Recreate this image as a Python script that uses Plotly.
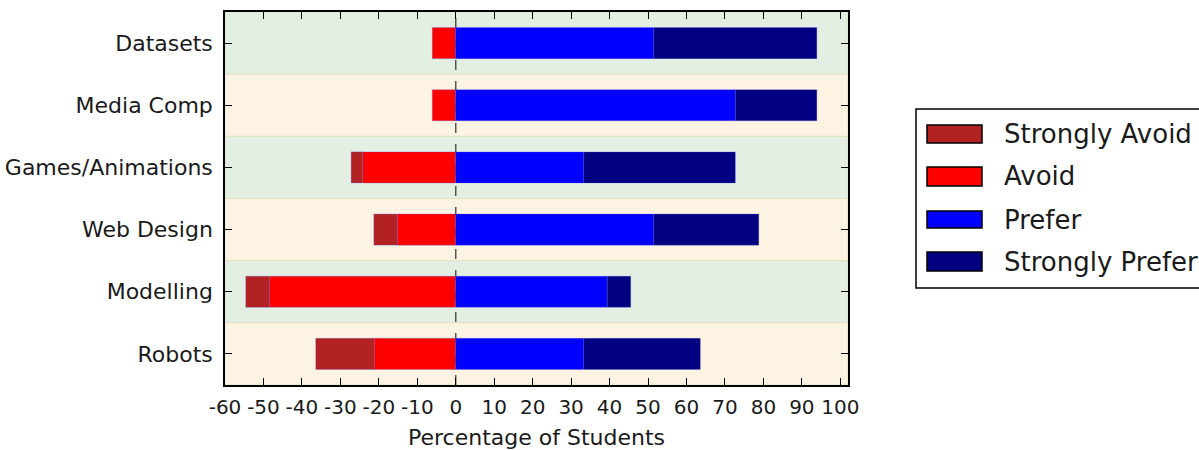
import plotly.graph_objects as go

# Survey topics, listed top to bottom
topics = ["Datasets", "Media Comp", "Games/Animations", "Web Design", "Modelling", "Robots"]

# Percentage of students per response (avoid responses plotted to the left of zero)
strongly_avoid = [0.0, 0.0, 3.0, 6.1, 6.1, 15.2]
avoid = [6.1, 6.1, 24.2, 15.2, 48.5, 21.2]
prefer = [51.5, 72.7, 33.3, 51.5, 39.4, 33.3]
strongly_prefer = [42.4, 21.2, 39.4, 27.3, 6.1, 30.3]

x_ticks = list(range(-60, 101, 10))
x_tick_labels = [str(v) for v in x_ticks]

series_names = ["Strongly Avoid", "Avoid", "Prefer", "Strongly Prefer"]
series_colors = ["#b22222", "#ff0000", "#0000ff", "#000080"]

band_colors = ["#e4efe3", "#fdf3e3"]

W, H = 1199, 450
L, R, T, B = 225, 848, 12, 385
font = "DejaVu Sans"
ink = "#1a1a1a"

fig = go.Figure()

edge = dict(color="rgba(90,90,220,0.4)", width=0.7)
# relative stacking: first negative trace sits next to zero
stack = [
    ("Avoid", [-v for v in avoid], series_colors[1]),
    ("Strongly Avoid", [-v for v in strongly_avoid], series_colors[0]),
    ("Prefer", prefer, series_colors[2]),
    ("Strongly Prefer", strongly_prefer, series_colors[3]),
]
for name, vals, col in stack:
    fig.add_trace(go.Bar(
        y=topics, x=vals, orientation="h", name=name,
        marker=dict(color=col, line=edge), width=0.5, showlegend=False,
    ))

shapes = []
# alternating background bands for each topic row
for i, t in enumerate(topics):
    shapes.append(dict(
        type="rect", xref="paper", yref="y", x0=0, x1=1, y0=i - 0.5, y1=i + 0.5,
        fillcolor=band_colors[i % 2], line=dict(color="#dfe3bf", width=1), layer="below",
    ))
# dashed zero line
shapes.append(dict(
    type="line", xref="x", yref="paper", x0=0, x1=0, y0=0, y1=1,
    line=dict(color="#555555", width=1.5, dash="10px,11px"), layer="below",
))


def px_x(px):
    return (px - L) / (R - L)


def px_y(py):
    return (B - py) / (B - T)


# legend box
shapes.append(dict(
    type="rect", xref="paper", yref="paper", x0=px_x(916), x1=px_x(1230),
    y0=px_y(288), y1=px_y(109), line=dict(color="black", width=1.5),
    fillcolor="white",
))
annotations = []
rows = [(125, 143), (167, 186), (211, 228), (252, 271)]
for (top, bot), name, col in zip(rows, series_names, series_colors):
    shapes.append(dict(
        type="rect", xref="paper", yref="paper", x0=px_x(927), x1=px_x(982),
        y0=px_y(bot), y1=px_y(top), fillcolor=col, line=dict(color="black", width=1.5),
    ))
    annotations.append(dict(
        xref="paper", yref="paper", x=px_x(1002), y=px_y((top + bot) / 2),
        text=name, showarrow=False, xanchor="left", yanchor="middle",
        font=dict(family=font, size=26, color=ink),
    ))

fig.update_layout(
    width=W, height=H,
    margin=dict(l=L, r=W - R, t=T, b=H - B, pad=0, autoexpand=False),
    paper_bgcolor="white", plot_bgcolor="white",
    barmode="relative", bargap=0.5,
    shapes=shapes, annotations=annotations,
    font=dict(family=font, color=ink),
)
fig.update_xaxes(
    range=[-60, 102], tickvals=x_ticks, ticktext=x_tick_labels, automargin=False,
    showgrid=False, zeroline=False, showline=True, linecolor="black", linewidth=1.5,
    mirror="allticks", ticks="inside", ticklen=7, tickcolor="black", tickwidth=1,
    tickfont=dict(family=font, size=20, color=ink), ticklabelstandoff=3,
    title=dict(text="Percentage of Students", font=dict(family=font, size=22, color=ink), standoff=14),
)
fig.update_yaxes(
    range=[5.5, -0.5], categoryorder="array", categoryarray=topics, automargin=False,
    showgrid=False, zeroline=False, showline=True, linecolor="black", linewidth=1.5,
    mirror="allticks", ticks="inside", ticklen=7, tickcolor="black", tickwidth=1,
    tickfont=dict(family=font, size=22, color=ink), ticklabelstandoff=6,
)

fig.write_html("out.html")
